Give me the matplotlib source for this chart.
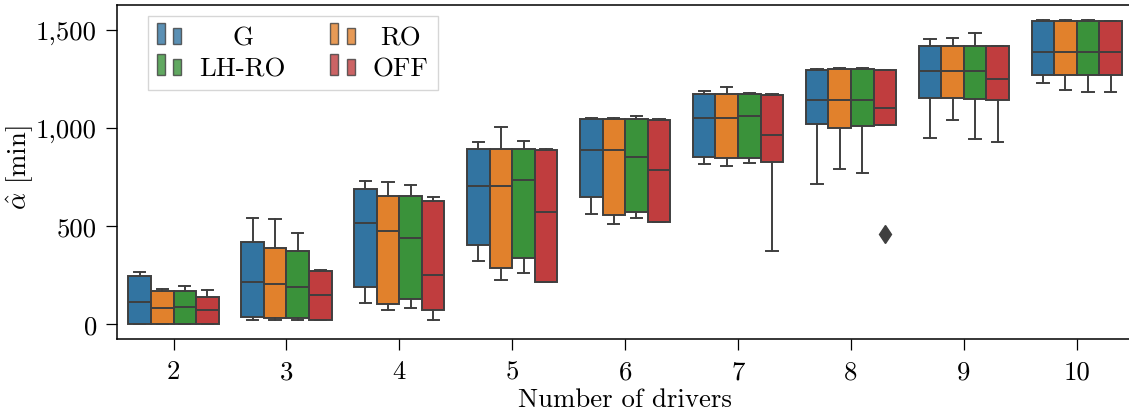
import matplotlib
matplotlib.use("Agg")
import matplotlib.pyplot as plt
from matplotlib.patches import Rectangle
from matplotlib.legend_handler import HandlerBase
from matplotlib.ticker import FuncFormatter

plt.rcParams.update({
    "font.family": "serif",
    "font.serif": ["cmr10"],
    "mathtext.fontset": "cm",
    "axes.formatter.use_mathtext": True,
    "font.size": 19.3,
})

drivers = [2, 3, 4, 5, 6, 7, 8, 9, 10]
policies = ["G", "RO", "LH-RO", "OFF"]
colors = ["#3274a1", "#e1812c", "#3a923a", "#c03d3e"]
gray = "#3f3f3f"

# Box summaries per policy (minutes): lower whisker, Q1, median, Q3, upper whisker
g_whislo = [0, 22, 107, 320, 561, 817, 716, 950, 1227]
g_q1 = [2, 36, 191, 405, 649, 853, 1018, 1150, 1271]
g_med = [114, 214, 517, 703, 885, 1048, 1144, 1290, 1386]
g_q3 = [247, 421, 690, 894, 1045, 1174, 1297, 1420, 1546]
g_whishi = [267, 542, 731, 928, 1050, 1188, 1300, 1453, 1549]

ro_whislo = [0, 22, 73, 224, 512, 804, 790, 1038, 1193]
ro_q1 = [2, 31, 104, 287, 558, 848, 1001, 1150, 1271]
ro_med = [80, 204, 476, 703, 885, 1050, 1140, 1288, 1387]
ro_q3 = [168, 386, 652, 894, 1043, 1172, 1298, 1420, 1546]
ro_whishi = [178, 535, 726, 1006, 1052, 1206, 1303, 1458, 1549]

lhro_whislo = [0, 22, 80, 263, 540, 821, 770, 941, 1182]
lhro_q1 = [2, 31, 126, 335, 573, 845, 1011, 1148, 1271]
lhro_med = [85, 189, 440, 734, 851, 1060, 1144, 1290, 1387]
lhro_q3 = [167, 372, 652, 894, 1045, 1172, 1298, 1420, 1546]
lhro_whishi = [194, 462, 709, 935, 1059, 1179, 1303, 1483, 1549]

off_whislo = [0, 20, 22, 216, 518, 371, 1014, 926, 1182]
off_q1 = [2, 20, 70, 216, 520, 828, 1014, 1144, 1271]
off_med = [71, 148, 252, 571, 787, 963, 1101, 1251, 1385]
off_q3 = [138, 272, 630, 887, 1042, 1169, 1297, 1420, 1544]
off_whishi = [175, 275, 646, 890, 1045, 1172, 1297, 1420, 1546]
off_fliers = [[], [], [], [], [], [], [457], [], []]

no_fliers = [[] for _ in drivers]
summaries = [
    (g_whislo, g_q1, g_med, g_q3, g_whishi, no_fliers),
    (ro_whislo, ro_q1, ro_med, ro_q3, ro_whishi, no_fliers),
    (lhro_whislo, lhro_q1, lhro_med, lhro_q3, lhro_whishi, no_fliers),
    (off_whislo, off_q1, off_med, off_q3, off_whishi, off_fliers),
]

fig = plt.figure(figsize=(11.29, 4.14), dpi=100)
ax = fig.add_axes([0.1037, 0.178, 0.900, 0.8075])

n_hue = len(policies)
box_w = 0.8 / n_hue
lw = 1.4
for j, (lo, q1, med, q3, hi, fl) in enumerate(summaries):
    stats = [dict(whislo=lo[i], q1=q1[i], med=med[i], q3=q3[i], whishi=hi[i],
                  fliers=fl[i]) for i in range(len(drivers))]
    pos = [i + (j - (n_hue - 1) / 2) * box_w for i in range(len(drivers))]
    ax.bxp(stats, positions=pos, widths=box_w, patch_artist=True,
           manage_ticks=False,
           boxprops=dict(facecolor=colors[j], edgecolor=gray, linewidth=lw),
           medianprops=dict(color=gray, linewidth=lw),
           whiskerprops=dict(color=gray, linewidth=lw),
           capprops=dict(color=gray, linewidth=lw),
           flierprops=dict(marker="d", markersize=9.5, markerfacecolor=gray,
                           markeredgecolor=gray, linestyle="none"))

ax.set_xlim(-0.5, len(drivers) - 0.5)
ax.margins(y=0.05)
ax.autoscale(axis="y")
ax.set_xticks(range(len(drivers)), [str(d) for d in drivers])
ax.yaxis.set_major_formatter(FuncFormatter(lambda v, _: f"{v:,.0f}"))
ax.set_yticks([0, 500, 1000, 1500])
ax.tick_params(length=8, width=0.9, pad=6.5, colors="black")
for s in ax.spines.values():
    s.set_linewidth(1.1)
ax.spines["right"].set_visible(False)

ax.set_xlabel("Number of drivers")
ax.set_ylabel(r"$\hat{\alpha}$ [min]")
ax.xaxis.set_label_coords(0.5, -0.143)
ax.yaxis.set_label_coords(-0.080, 0.516)


class PairedBoxHandler(HandlerBase):
    def create_artists(self, legend, orig_handle, xdescent, ydescent,
                       width, height, fontsize, trans):
        fc = orig_handle.get_facecolor()
        rw = width * 0.33
        x0 = -xdescent
        y0 = -ydescent
        tall = Rectangle((x0, y0), rw, height * 1.15, facecolor=fc,
                         edgecolor=gray, linewidth=1.0, alpha=0.8,
                         transform=trans)
        short = Rectangle((x0 + width - rw, y0), rw, height * 0.88,
                          facecolor=fc, edgecolor=gray, linewidth=1.0,
                          alpha=0.8, transform=trans)
        return [tall, short]


handles = [Rectangle((0, 0), 1, 1, facecolor=c) for c in colors]
order = [0, 2, 1, 3]
leg = ax.legend([handles[k] for k in order], [policies[k] for k in order],
                ncol=2, loc="upper left", bbox_to_anchor=(0.0303, 0.967),
                borderaxespad=0, fancybox=False, framealpha=0.8,
                edgecolor="0.8", handlelength=0.9, handleheight=0.7,
                handletextpad=0.67, columnspacing=1.67, labelspacing=0.27,
                borderpad=0.35,
                handler_map={Rectangle: PairedBoxHandler()})
leg.get_frame().set_linewidth(1.0)

# centre each label inside its legend column
fig.canvas.draw()
texts = leg.get_texts()
renderer = fig.canvas.get_renderer()
for col in (texts[0:2], texts[2:4]):
    widths = [t.get_window_extent(renderer).width for t in col]
    wmax = max(widths)
    for t, w in zip(col, widths):
        x, y = t.get_position()
        t.set_position((x + (wmax - w) / 2, y))

fig.savefig("out.png", dpi=100)
